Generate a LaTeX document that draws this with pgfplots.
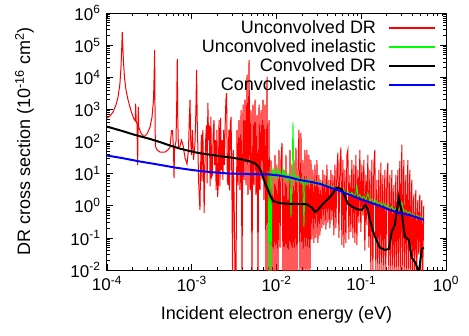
\documentclass[border=0pt]{standalone}
\usepackage{fontspec}
\setmainfont{Liberation Sans}
\usepackage{pgfplots}
\pgfplotsset{compat=1.18}
\begin{document}
\begin{tikzpicture}
\begin{axis}[
  scale only axis, width=339bp, height=257bp,
  xmode=log, ymode=log,
  xmin=1e-4, xmax=1, ymin=1e-2, ymax=1e6,
  xtick={1e-4,1e-3,1e-2,1e-1,1},
  xticklabels={10\textsuperscript{-4},10\textsuperscript{-3},10\textsuperscript{-2},10\textsuperscript{-1},10\textsuperscript{0}},
  ytick={1e-2,1e-1,1,1e1,1e2,1e3,1e4,1e5,1e6},
  yticklabels={10\textsuperscript{-2},10\textsuperscript{-1},10\textsuperscript{0},10\textsuperscript{1},10\textsuperscript{2},10\textsuperscript{3},10\textsuperscript{4},10\textsuperscript{5},10\textsuperscript{6}},
  minor xtick={2e-4,3e-4,4e-4,5e-4,6e-4,7e-4,8e-4,9e-4,2e-3,3e-3,4e-3,5e-3,6e-3,7e-3,8e-3,9e-3,2e-2,3e-2,4e-2,5e-2,6e-2,7e-2,8e-2,9e-2,0.2,0.3,0.4,0.5,0.6,0.7,0.8,0.9},
  minor ytick={2e-2,3e-2,4e-2,5e-2,6e-2,7e-2,8e-2,9e-2,0.2,0.3,0.4,0.5,0.6,0.7,0.8,0.9,2,3,4,5,6,7,8,9,20,30,40,50,60,70,80,90,200,300,400,500,600,700,800,900,2e3,3e3,4e3,5e3,6e3,7e3,8e3,9e3,2e4,3e4,4e4,5e4,6e4,7e4,8e4,9e4,2e5,3e5,4e5,5e5,6e5,7e5,8e5,9e5},
  tick label style={font=\fontsize{17bp}{17bp}\selectfont},
  xticklabel style={yshift=-3bp},
  yticklabel style={xshift=-3bp},
  major tick length=6bp, minor tick length=3bp,
  tick style={black, line width=0.7pt},
  axis line style={line width=1pt},
  every axis x label/.style={at={(axis description cs:0.5,-0.1401)}, anchor=north, inner sep=0pt, font=\fontsize{18bp}{18bp}\selectfont},
  every axis y label/.style={at={(axis description cs:-0.2153,0.5)}, rotate=90, anchor=south, inner sep=0pt, font=\fontsize{18bp}{18bp}\selectfont},
  xlabel={Incident electron energy (eV)},
  ylabel={DR cross section (10\textsuperscript{-16} cm\textsuperscript{2})},
  legend style={draw=none, fill=none, at={(rel axis cs:0.970,0.9786)}, anchor=north east,
    font=\fontsize{18bp}{18bp}\selectfont, inner sep=0pt, row sep=0.5bp, column sep=10bp,
    nodes={inner sep=2bp}},
  legend cell align=right, legend plot pos=right,
  legend image code/.code={\draw[#1, line width=1.6pt] (0bp,0bp) -- (46bp,0bp);},
]
\addplot[red, line width=1pt] coordinates {
(1.00e-4,540) (1.085e-4,620) (1.18e-4,830) (1.28e-4,1400) (1.35e-4,2400) (1.42e-4,6200) (1.46e-4,1.9e4) (1.49e-4,7e4) (1.515e-4,2.6e5) (1.535e-4,1e5) (1.565e-4,3e4) (1.61e-4,9.5e3) (1.675e-4,4e3) (1.77e-4,2e3) (1.92e-4,900) (2.08e-4,500) (2.16e-4,440) (2.18e-4,1500) (2.21e-4,440) (2.26e-4,350) (2.30e-4,18.6) (2.33e-4,350) (2.34e-4,1200) (2.37e-4,280) (2.52e-4,180) (2.73e-4,140) (2.96e-4,170) (3.22e-4,280) (3.40e-4,580) (3.54e-4,2000) (3.60e-4,1.2e4) (3.65e-4,7e4) (3.68e-4,2000) (3.72e-4,72) (3.89e-4,55) (4.22e-4,47) (4.83e-4,47) (5.25e-4,55) (5.54e-4,67) (5.77e-4,220) (5.93e-4,220) (6.10e-4,55) (6.18e-4,7.3) (6.27e-4,63) (6.52e-4,100) (6.66e-4,2000) (6.75e-4,3.7e4) (6.84e-4,465) (6.97e-4,67) (7.27e-4,72) (7.57e-4,110) (7.89e-4,78) (8.33e-4,31) (8.79e-4,20) (9.15e-4,55) (9.32e-4,320) (9.54e-4,2000) (9.72e-4,110) (9.93e-4,38)
(1.02e-3,230) (1.05e-3,27) (1.09e-3,78) (1.12e-3,950) (1.14e-3,1.7e4) (1.16e-3,465) (1.19e-3,27) (1.21e-3,4.4) (1.25e-3,0.74) (1.27e-3,13) (1.30e-3,160) (1.32e-3,6) (1.35e-3,230) (1.38e-3,13) (1.40e-3,0.6) (1.43e-3,18.6) (1.46e-3,110) (1.49e-3,320) (1.52e-3,5) (1.55e-3,1600) (1.58e-3,110) (1.61e-3,320) (1.65e-3,4) (1.68e-3,580) (1.72e-3,8) (1.75e-3,9.1) (1.79e-3,160) (1.83e-3,465) (1.86e-3,18.6) (1.90e-3,110) (1.94e-3,3.1) (1.98e-3,230) (2.02e-3,1.9) (2.06e-3,5) (2.10e-3,465) (2.15e-3,4) (2.19e-3,540) (2.23e-3,13) (2.28e-3,110) (2.33e-3,6.4) (2.38e-3,230) (2.43e-3,18.6) (2.48e-3,320) (2.53e-3,2000) (2.58e-3,3200) (2.63e-3,6) (2.68e-3,4.4) (2.74e-3,230) (2.79e-3,3) (2.85e-3,320) (2.91e-3,580) (2.97e-3,9.1) (3.03e-3,0.008) (3.09e-3,55) (3.15e-3,3.1) (3.24e-3,0.008)
(3.33e-3,0.008) (3.42e-3,230) (3.52e-3,4.4) (3.61e-3,465) (3.71e-3,3.1) (3.82e-3,950) (3.92e-3,0.008) (4.03e-3,1400) (4.14e-3,6.4) (4.25e-3,2000) (4.37e-3,4.4) (4.49e-3,1.2e4) (4.61e-3,2.2) (4.74e-3,3.4e4) (4.87e-3,3.1) (5.00e-3,950) (5.14e-3,0.008) (5.28e-3,1400) (5.43e-3,4.4) (5.58e-3,2000) (5.73e-3,2.2) (5.89e-3,670) (6.05e-3,0.008) (6.22e-3,1400) (6.39e-3,3.1) (6.57e-3,950) (6.75e-3,6.4) (6.93e-3,2000) (7.12e-3,1.5) (7.32e-3,1400) (7.52e-3,0.008) (7.73e-3,1e4) (7.94e-3,0.008) (8.16e-3,465) (8.38e-3,0.008)
(8.61e-3,27) (8.85e-3,0.008) (9.09e-3,13) (9.34e-3,0.008) (9.60e-3,38) (9.86e-3,0.008) (1.013e-2,19) (1.041e-2,0.008) (1.070e-2,55) (1.100e-2,0.05) (1.130e-2,27) (1.161e-2,90) (1.193e-2,0.008) (1.226e-2,13) (1.260e-2,0.008) (1.294e-2,38) (1.330e-2,0.008) (1.367e-2,9) (1.404e-2,0.008) (1.443e-2,55) (1.483e-2,0.008) (1.523e-2,19) (1.565e-2,0.008) (1.608e-2,27) (1.652e-2,0.008) (1.698e-2,65) (1.744e-2,0.008) (1.792e-2,13) (1.842e-2,230) (1.892e-2,0.008) (1.944e-2,190) (1.998e-2,0.008) (2.053e-2,27) (2.109e-2,0.008) (2.167e-2,55) (2.227e-2,0.008) (2.288e-2,55) (2.351e-2,0.008) (2.416e-2,38) (2.482e-2,0.008) (2.550e-2,27)
(2.620e-2,0.09) (2.692e-2,13) (2.766e-2,0.07) (2.842e-2,19) (2.921e-2,0.1) (3.001e-2,27) (3.083e-2,0.07) (3.168e-2,9) (3.255e-2,0.12) (3.345e-2,6.4) (3.437e-2,0.2) (3.531e-2,13) (3.628e-2,0.25) (3.728e-2,9) (3.831e-2,0.18) (3.936e-2,19) (4.044e-2,0.3) (4.155e-2,6.4) (4.270e-2,0.2) (4.387e-2,13) (4.508e-2,0.36) (4.632e-2,9) (4.759e-2,0.12) (4.890e-2,19) (5.024e-2,0.2) (5.162e-2,13) (5.304e-2,45) (5.450e-2,0.1) (5.600e-2,19) (5.754e-2,65) (5.912e-2,0.06) (6.074e-2,27) (6.241e-2,0.05) (6.413e-2,13) (6.589e-2,0.07) (6.770e-2,38) (6.956e-2,55) (7.148e-2,0.09) (7.344e-2,9) (7.546e-2,0.15) (7.754e-2,27) (7.967e-2,0.1) (8.186e-2,19) (8.411e-2,0.07) (8.642e-2,38)
(8.880e-2,0.06) (9.124e-2,13) (9.375e-2,0.3) (9.633e-2,55) (9.898e-2,0.15) (0.1017,19) (0.1045,0.5) (0.1074,27) (0.1103,0.04) (0.1134,9) (0.1165,0.25) (0.1197,38) (0.1230,0.05) (0.1264,13) (0.1298,0.008) (0.1334,27) (0.1371,0.008) (0.1408,19) (0.1447,55) (0.1487,0.008) (0.1528,6.4) (0.1570,0.008) (0.1613,13) (0.1657,0.008) (0.1703,22) (0.1750,0.008) (0.1798,9) (0.1847,0.008) (0.1898,13) (0.1950,0.008) (0.2004,6.4) (0.2059,22) (0.2115,0.008) (0.2174,9) (0.2233,0.008) (0.2295,13) (0.2358,0.008) (0.2423,4.4) (0.2489,0.008) (0.2558,9) (0.2628,0.008) (0.2700,13) (0.2775,0.008) (0.2851,25) (0.2929,0.008) (0.3010,80) (0.3093,0.008) (0.3178,27) (0.3265,0.008) (0.3355,9) (0.3447,0.008) (0.3542,27) (0.3639,0.008) (0.3739,13) (0.3842,0.008) (0.3947,6.4) (0.4056,0.008) (0.4167,2.2) (0.4282,0.008) (0.4400,3.1) (0.4521,0.008) (0.4645,1.5) (0.4773,0.03) (0.4904,2.2) (0.5039,0.008) (0.5177,1.5) (0.5319,0.008) (0.5466,1.0)
};
\addlegendentry{Unconvolved DR}
\addplot[green, line width=0.9pt] coordinates {
(7.94e-3,12) (8.16e-3,0.008) (8.38e-3,16) (8.61e-3,0.008) (8.85e-3,9) (9.09e-3,14) (9.34e-3,8) (9.60e-3,12) (9.86e-3,7) (1.013e-2,11) (1.041e-2,15) (1.070e-2,9) (1.100e-2,12) (1.161e-2,8) (1.193e-2,14) (1.226e-2,7) (1.260e-2,11) (1.294e-2,9) (1.330e-2,6) (1.367e-2,10) (1.404e-2,7) (1.443e-2,9) (1.483e-2,0.45) (1.523e-2,8) (1.565e-2,400) (1.608e-2,7) (1.652e-2,9) (1.698e-2,6) (1.744e-2,8) (1.792e-2,5.5) (1.842e-2,8) (1.892e-2,6) (1.944e-2,5) (1.998e-2,7) (2.053e-2,5) (2.109e-2,0.22) (2.167e-2,6) (2.227e-2,5) (2.288e-2,7) (2.351e-2,4.8) (2.416e-2,6.5) (2.482e-2,5)
(2.620e-2,6) (2.766e-2,4.5) (2.921e-2,6) (3.083e-2,4.6) (3.255e-2,5.6) (3.437e-2,4.3) (3.628e-2,5) (3.831e-2,4) (4.044e-2,4.6) (4.270e-2,3.6) (4.508e-2,4.2) (4.759e-2,3.3) (5.024e-2,3.8) (5.304e-2,3.0) (5.600e-2,3.4) (5.912e-2,2.7) (6.241e-2,3.1) (6.589e-2,2.4) (6.956e-2,2.8) (7.344e-2,2.2) (7.754e-2,2.6) (8.186e-2,2.0) (8.642e-2,2.4) (8.880e-2,4.5) (9.124e-2,1.9) (9.633e-2,2.2) (0.1017,1.7) (0.1074,2.0) (0.1134,1.5) (0.1197,2.5) (0.1264,1.35) (0.1334,1.6) (0.1408,1.2) (0.1487,1.45) (0.1570,1.1) (0.1657,1.3) (0.1750,1.0) (0.1847,1.2) (0.1950,0.9) (0.2059,1.1) (0.2174,0.8) (0.2295,0.95) (0.2423,0.72) (0.2558,0.85) (0.2700,0.68) (0.2851,0.85) (0.3010,1.3) (0.3178,0.66) (0.3355,0.72) (0.3542,0.58) (0.3739,0.66) (0.3947,0.45) (0.4167,0.55) (0.4400,0.44) (0.4645,0.5) (0.4904,0.42) (0.5177,0.44) (0.5466,0.38)
};
\addlegendentry{Unconvolved inelastic}
\addplot[black, line width=2pt] coordinates {
(1e-4,290) (1.5e-4,214) (2.14e-4,160) (3.22e-4,120) (4.22e-4,96) (5.54e-4,75) (7.27e-4,60) (9.54e-4,50) (1.25e-3,43) (1.64e-3,39) (2.15e-3,35) (2.83e-3,32) (3.71e-3,28.5) (4.87e-3,24) (5.58e-3,20.7) (6.05e-3,17.3) (6.57e-3,12) (6.93e-3,7.9) (7.5e-3,4.4) (8.38e-3,2.2) (9.1e-3,1.4) (1.1e-2,1.2) (1.44e-2,1.15) (1.89e-2,1.15) (2.29e-2,1.1) (2.62e-2,0.88) (2.84e-2,0.64) (3.08e-2,0.74) (3.44e-2,1.05) (4.04e-2,1.6) (4.63e-2,2.4) (5.02e-2,3.5) (5.3e-2,3.7) (5.91e-2,3.2) (6.41e-2,1.95) (6.96e-2,1.15) (7.34e-2,1.05) (8.0e-2,0.9) (9.0e-2,0.78) (0.1017,0.74) (0.1074,0.95) (0.112,1.05) (0.1197,0.75) (0.1264,0.36) (0.1447,0.11) (0.1657,0.05) (0.1898,0.042) (0.2115,0.045) (0.2295,0.16) (0.2489,0.25) (0.2775,1.8) (0.301,0.6) (0.3265,0.11) (0.3639,0.086) (0.3947,0.024) (0.44,0.016) (0.4773,0.008) (0.5177,0.045) (0.5466,0.05)
};
\addlegendentry{Convolved DR}
\addplot[blue, line width=2pt] coordinates {
(1e-4,36.6) (1.5e-4,30.6) (2.45e-4,23.8) (4e-4,19.2) (6.3e-4,15.5) (1e-3,13.0) (1.64e-3,11.2) (2.83e-3,10.0) (4.87e-3,9.7) (8.38e-3,9.4) (1.1e-2,8.7) (1.44e-2,7.6) (1.89e-2,6.3) (2.48e-2,5.6) (3.26e-2,4.8) (4.28e-2,3.7) (5.61e-2,2.9) (7.36e-2,2.16) (9.66e-2,1.62) (0.127,1.26) (0.166,0.98) (0.218,0.74) (0.286,0.59) (0.376,0.51) (0.493,0.40) (0.55,0.37)
};
\addlegendentry{Convolved inelastic}
\end{axis}
\pgfresetboundingbox
\path (current axis.south west) ++(-107bp,-66bp) rectangle ++(469bp,336bp);
\end{tikzpicture}
\end{document}
